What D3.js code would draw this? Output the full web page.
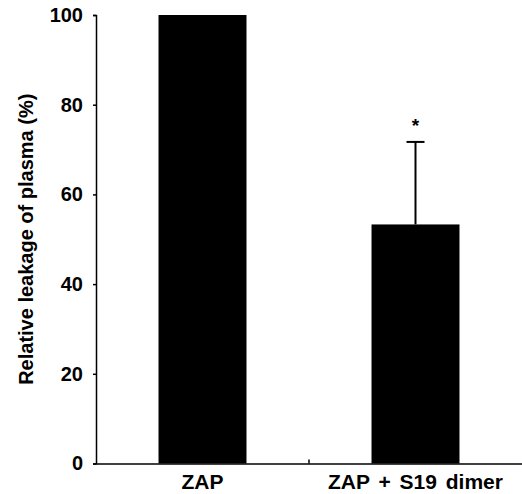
<!DOCTYPE html>
<html><head><meta charset="utf-8">
<script src="https://cdn.jsdelivr.net/npm/d3@7"></script>
<style>body{margin:0;background:#fff}svg{display:block}text{font-family:"Liberation Sans",Arial,sans-serif;font-weight:bold}</style>
</head><body>
<script>
const categories = ["ZAP", "ZAP + S19 dimer"];
const values = [100, 53.3];
const errors = [0, 18.4];
const significance = ["", "*"];
const yTicks = [0, 20, 40, 60, 80, 100];
const yLabel = "Relative leakage of plasma (%)";

const W = 522, H = 494;
const m = {left: 96, right: 0, top: 15, bottom: 30.5};
const svg = d3.select("body").append("svg").attr("width", W).attr("height", H);
const x = d3.scaleBand().domain(categories).range([m.left, W - m.right]).paddingInner(0.587).paddingOuter(0.2935);
const y = d3.scaleLinear().domain([0, 100]).range([H - m.bottom, m.top]);

// bars
svg.selectAll("rect.bar").data(categories).enter().append("rect")
  .attr("x", d => x(d)).attr("width", x.bandwidth())
  .attr("y", (d, i) => y(values[i])).attr("height", (d, i) => y(0) - y(values[i]))
  .attr("fill", "#000");

// error bars
categories.forEach((c, i) => {
  if (!errors[i]) return;
  const cx = x(c) + x.bandwidth() / 2;
  svg.append("line").attr("x1", cx).attr("x2", cx).attr("y1", y(values[i])).attr("y2", y(values[i] + errors[i]))
    .attr("stroke", "#000").attr("stroke-width", 2);
  svg.append("line").attr("x1", cx - 9).attr("x2", cx + 9).attr("y1", y(values[i] + errors[i])).attr("y2", y(values[i] + errors[i]))
    .attr("stroke", "#000").attr("stroke-width", 2);
  svg.append("text").attr("x", cx).attr("y", y(values[i] + errors[i]) - 10).attr("text-anchor", "middle")
    .attr("font-size", 19).text(significance[i]);
});

// y axis
const ya = svg.append("g").attr("transform", `translate(${m.left},0)`)
  .call(d3.axisLeft(y).tickValues(yTicks).tickSize(3).tickPadding(10));
ya.select(".domain").attr("stroke-width", 1.5);
ya.selectAll(".tick line").attr("stroke-width", 1.5);
ya.selectAll(".tick text").attr("font-size", 20).attr("font-family", "Liberation Sans, Arial, sans-serif").attr("font-weight", "bold");

// x axis
const xa = svg.append("g").attr("transform", `translate(0,${y(0)})`)
  .call(d3.axisBottom(x).tickSize(0).tickPadding(11));
xa.select(".domain").attr("stroke-width", 1.5);
xa.selectAll(".tick text").attr("font-size", 21).attr("font-family", "Liberation Sans, Arial, sans-serif").attr("font-weight", "bold").attr("dy", "0.71em").attr("word-spacing", 3);
// middle separator tick
const mid = (x(categories[0]) + x.bandwidth() + x(categories[1])) / 2;
svg.append("line").attr("x1", mid).attr("x2", mid).attr("y1", y(0)).attr("y2", y(0) - 4).attr("stroke", "#000").attr("stroke-width", 1.5);

// y label
svg.append("text").attr("transform", `translate(33,${(y(0) + y(100)) / 2}) rotate(-90)`)
  .attr("text-anchor", "middle").attr("font-size", 20).text(yLabel);
</script>
</body></html>
